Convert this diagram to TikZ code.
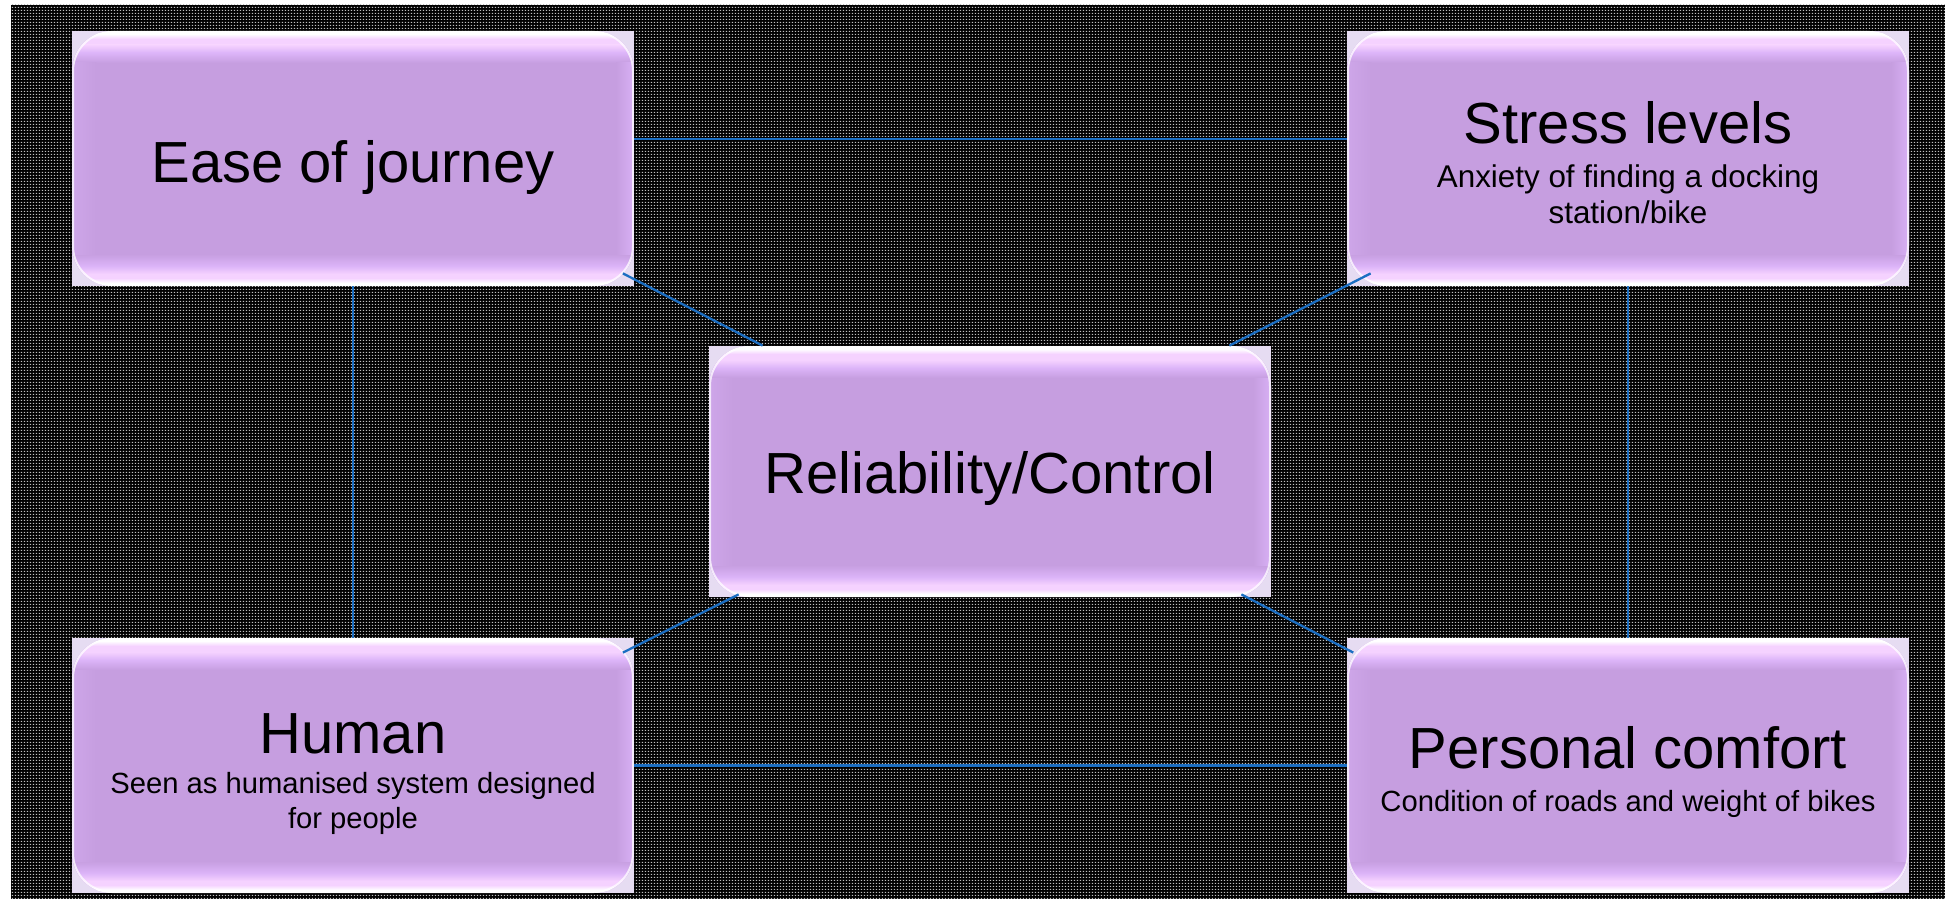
\documentclass[tikz,border=0pt]{standalone}
\usepackage{fontspec}
\setmainfont{Liberation Sans}
\usetikzlibrary{calc,patterns.meta}

\definecolor{gM}{HTML}{C69EE0}
\definecolor{gBack}{HTML}{E6DCF2}
\definecolor{gLine}{HTML}{1B6EC2}
\definecolor{gDot}{HTML}{BEBEBE}
\definecolor{gPink}{HTML}{F5D2FF}
\definecolor{gLav}{HTML}{DCB4F8}
\definecolor{gSideL}{HTML}{CEA6E9}
\definecolor{gSideR}{HTML}{D8B0F5}

\tikzdeclarepattern{
  name=bgdots,
  type=colored,
  bottom left={(0pt,0pt)},
  top right={(1.5pt,1.5pt)},
  tile size={(1.5pt,1.5pt)},
  code={\fill[gDot] (0pt,0pt) rectangle (0.75pt,0.75pt);}
}

\newcommand{\ppnw}{path picture bounding box.north west}
\newcommand{\ppne}{path picture bounding box.north east}
\newcommand{\ppsw}{path picture bounding box.south west}
\newcommand{\ppse}{path picture bounding box.south east}

\tikzset{
  gbox/.style={rectangle, draw=none, fill=gBack, inner sep=0pt,
    minimum width=281pt, minimum height=127.5pt,
    path picture={
      \begin{scope}
        \clip[rounded corners=20pt] (\ppnw) rectangle (\ppse);
        \fill[gM] (\ppnw) rectangle (\ppse);
        % top band
        \fill[white] (\ppnw) rectangle ([yshift=-1.5pt]\ppne);
        \shade[top color=white, bottom color=gPink] ([yshift=-1.5pt]\ppnw) rectangle ([yshift=-4pt]\ppne);
        \fill[gPink] ([yshift=-4pt]\ppnw) rectangle ([yshift=-7pt]\ppne);
        \shade[top color=gPink, bottom color=gLav] ([yshift=-7pt]\ppnw) rectangle ([yshift=-11pt]\ppne);
        \shade[top color=gLav, bottom color=gM] ([yshift=-11pt]\ppnw) rectangle ([yshift=-16pt]\ppne);
        % bottom band
        \fill[white] (\ppsw) rectangle ([yshift=1.5pt]\ppse);
        \shade[bottom color=white, top color=gPink] ([yshift=1.5pt]\ppsw) rectangle ([yshift=4pt]\ppse);
        \fill[gPink] ([yshift=4pt]\ppsw) rectangle ([yshift=6pt]\ppse);
        \shade[bottom color=gPink, top color=gLav] ([yshift=6pt]\ppsw) rectangle ([yshift=10pt]\ppse);
        \shade[bottom color=gLav, top color=gM] ([yshift=10pt]\ppsw) rectangle ([yshift=16pt]\ppse);
        % sides
        \shade[left color=gSideL, right color=gM] ([yshift=-16pt]\ppnw) rectangle ([xshift=12pt,yshift=16pt]\ppsw);
        \shade[left color=gM, right color=gSideR] ([xshift=-9pt,yshift=-16pt]\ppne) rectangle ([yshift=16pt]\ppse);
        \draw[white, opacity=0.75, line width=2pt, rounded corners=20pt] (\ppnw) rectangle (\ppse);
      \end{scope}
    }},
  ttl/.style={inner sep=0pt, anchor=base, text=black, font=\fontsize{29}{34}\selectfont},
  subt/.style={inner sep=0pt, anchor=base, text=black, font=\fontsize{14.6}{18}\selectfont},
  subbig/.style={subt, font=\fontsize{15.7}{19}\selectfont},
  conn/.style={draw=gLine, line width=1.15pt}
}

\begin{document}
\begin{tikzpicture}[x=0.5pt, y=-0.5pt]
\useasboundingbox (0,0) rectangle (1950,899);
\fill[white] (0,0) rectangle (1950,899);
\fill[black] (11,5) rectangle (1945,899);
\fill[pattern=bgdots] (11,5) rectangle (1945,899);

\node[gbox] (ease) at (353,158.5) {};
\node[gbox] (stress) at (1628,158.5) {};
\node[gbox, minimum height=125.5pt] (rel) at (990,471.5) {};
\node[gbox] (human) at (353,765.5) {};
\node[gbox] (comfort) at (1628,765.5) {};

\node[ttl] (easeT) at ($(ease.center)+(0,24.5)$) {Ease of journey};
\node[ttl] (stressT) at ($(stress.center)+(0,-14.5)$) {Stress levels};
\node[subbig] (stressA) at ($(stress.center)+(0,28.5)$) {Anxiety of finding a docking};
\node[subbig] (stressB) at ($(stress.center)+(0,64.5)$) {station/bike};
\node[ttl] (relT) at ($(rel.center)+(0,22)$) {Reliability/Control};
\node[ttl] (humanT) at ($(human.center)+(0,-12.5)$) {Human};
\node[subt] (humanA) at ($(human.center)+(0,27.5)$) {Seen as humanised system designed};
\node[subt] (humanB) at ($(human.center)+(0,62.5)$) {for people};
\node[ttl] (comfT) at ($(comfort.center)+(0,2.5)$) {Personal comfort};
\node[subt] (comfA) at ($(comfort.center)+(0,45.5)$) {Condition of roads and weight of bikes};

\draw[conn] ($(ease.east)+(0,-19.5)$) -- ($(stress.west)+(0,-19.5)$);
\draw[conn] (human.east) -- (comfort.west);
\draw[conn] (ease.south) -- (human.north);
\draw[conn] (stress.south) -- (comfort.north);
\draw[conn] ($(ease.south east)+(-11.5,-13)$) -- ($(rel.north west)+(54,0)$);
\draw[conn] ($(stress.south west)+(24,-13)$) -- ($(rel.north east)+(-42,0)$);
\draw[conn] ($(rel.south west)+(30,-3)$) -- ($(human.north east)+(-11.5,15)$);
\draw[conn] ($(rel.south east)+(-30,-3)$) -- ($(comfort.north west)+(6.7,15)$);
\end{tikzpicture}
\end{document}
